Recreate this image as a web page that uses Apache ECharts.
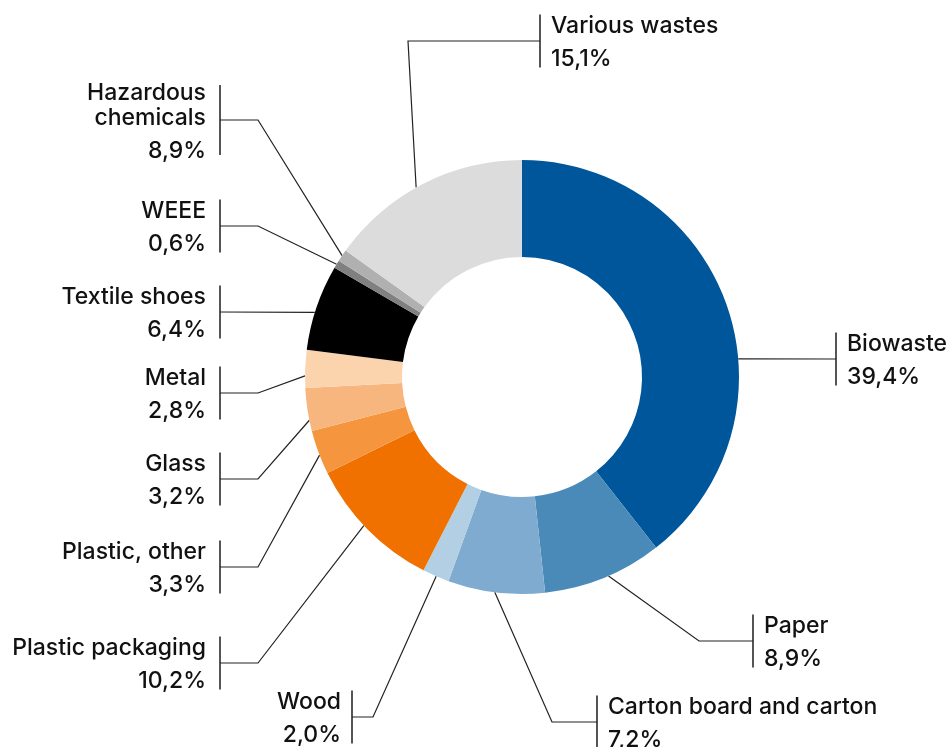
<!DOCTYPE html>
<html>
<head>
<meta charset="utf-8">
<script src="https://cdn.jsdelivr.net/npm/echarts@6/dist/echarts.min.js"></script>
<style>
html,body{margin:0;padding:0;background:#fff;}
#chart{width:949px;height:747px;}
</style>
</head>
<body>
<div id="chart"></div>
<script>
// ---- data ----
var categories = ['Biowaste', 'Paper', 'Carton board and carton', 'Wood', 'Plastic packaging',
  'Plastic, other', 'Glass', 'Metal', 'Textile shoes', 'WEEE', 'Hazardous chemicals', 'Various wastes'];
var values = [39.4, 8.9, 7.2, 2.0, 10.2, 3.3, 3.2, 2.8, 6.4, 0.6, 0.9, 15.1];
var valueLabels = ['39,4%', '8,9%', '7,2%', '2,0%', '10,2%', '3,3%', '3,2%', '2,8%', '6,4%', '0,6%', '8,9%', '15,1%'];
var nameLines = [['Biowaste'], ['Paper'], ['Carton board and carton'], ['Wood'], ['Plastic packaging'],
  ['Plastic, other'], ['Glass'], ['Metal'], ['Textile shoes'], ['WEEE'], ['Hazardous', 'chemicals'], ['Various wastes']];

// ---- styling / layout (not data) ----
var colors = ['#00569a', '#4a8ab8', '#7eabcf', '#b3cfe4', '#f07000', '#f5963f', '#f8b67f', '#fbd4ae',
  '#000000', '#808080', '#b0b0b0', '#dcdcdc'];
var FONT = 'Inter, Liberation Sans, Arial, sans-serif';
var FS = 23;
var CX = 522, CY = 377, R0 = 120, R1 = 217;
// bx: bar x, ly: leader horizontal y, ex/ey: elbow (null = none), ang: anchor angle on ring (deg, screen), side
var layout = [
  {bx: 836, ly: 359, ex: null, ey: null, ang: -4.8, side: 'R'},
  {bx: 753, ly: 641, ex: 699, ey: 641, ang: 66.5, side: 'R'},
  {bx: 597, ly: 722, ex: 552, ey: 722, ang: 97.2, side: 'R'},
  {bx: 352, ly: 717, ex: 373, ey: 717, ang: 113.3, side: 'L', gap: 11},
  {bx: 220, ly: 663, ex: 258, ey: 663, ang: 136.8, side: 'L'},
  {bx: 220, ly: 567, ex: 258, ey: 567, ang: 158.9, side: 'L'},
  {bx: 220, ly: 479, ex: 258, ey: 479, ang: 168.5, side: 'L'},
  {bx: 220, ly: 393, ex: 258, ey: 393, ang: 180.3, side: 'L'},
  {bx: 220, ly: 312, ex: null, ey: null, ang: 197.3, side: 'L'},
  {bx: 220, ly: 226, ex: 258, ey: 226, ang: 211.3, side: 'L'},
  {bx: 220, ly: 120, ex: 258, ey: 120, ang: 214, side: 'L'},
  {bx: 540, ly: 41, ex: 408, ey: 41, ang: 240.8, side: 'R'}
];

var chart = echarts.init(document.getElementById('chart'), null, {renderer: 'canvas'});

var data = categories.map(function (c, i) {
  return {name: c, value: values[i], itemStyle: {color: colors[i]}};
});

var bars = layout.map(function (L, i) {
  var lines = nameLines[i].length + 1;
  var half = lines > 2 ? 35 : 26.5;
  return {
    type: 'line', silent: true,
    shape: {x1: L.bx, y1: L.ly - half, x2: L.bx, y2: L.ly + half},
    style: {stroke: '#555555', lineWidth: 2}
  };
});

chart.setOption({
  animation: false,
  backgroundColor: '#ffffff',
  graphic: bars,
  series: [{
    type: 'pie',
    center: [CX, CY],
    radius: [R0, R1],
    startAngle: 90,
    clockwise: true,
    avoidLabelOverlap: false,
    itemStyle: {borderWidth: 0},
    label: {
      show: true,
      position: 'outside',
      fontFamily: FONT,
      fontSize: FS,
      fontWeight: 500,
      color: '#111111',
      formatter: function (p) {
        var i = p.dataIndex;
        return nameLines[i].map(function (s) { return '{n|' + s + '}'; }).join('\n') +
          '\n{p|' + valueLabels[i] + '}';
      },
      rich: {
        n: {fontSize: FS, lineHeight: 25, fontWeight: 500, color: '#111111', fontFamily: FONT},
        p: {fontSize: FS, lineHeight: 41, fontWeight: 500, color: '#111111', fontFamily: FONT}
      }
    },
    labelLine: {
      show: true,
      lineStyle: {color: '#222222', width: 1.2}
    },
    labelLayout: function (params) {
      var i = params.dataIndex;
      var L = layout[i];
      var a = L.ang * Math.PI / 180;
      var ax = CX + R1 * Math.cos(a), ay = CY + R1 * Math.sin(a);
      var ex = L.ex == null ? ax : L.ex, ey = L.ey == null ? ay : L.ey;
      var gap = L.gap || (L.side === 'R' ? 11 : 14);
      var tx = L.side === 'R' ? L.bx + gap : L.bx - gap;
      var align = L.side === 'R' ? 'left' : 'right';
      return {
        x: tx,
        y: L.ly + 6,
        align: align,
        verticalAlign: 'middle',
        hideOverlap: false,
        moveOverlap: null,
        labelLinePoints: [[ax, ay], [ex, ey], [L.bx, L.ly]]
      };
    },
    data: data
  }]
});
</script>
</body>
</html>
